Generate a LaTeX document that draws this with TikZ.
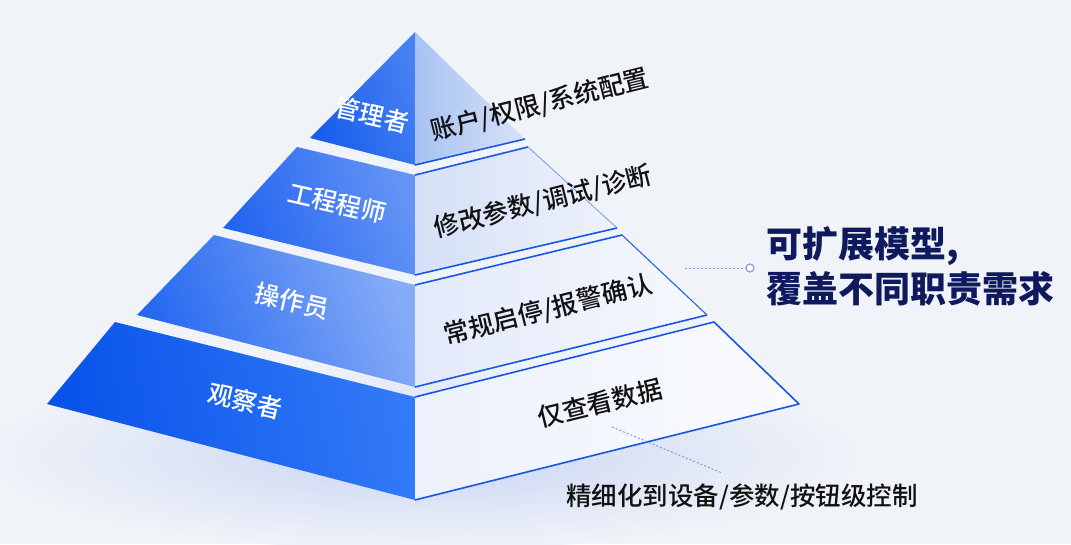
\documentclass[tikz,border=0pt]{standalone}
\usepackage{fontspec}
\setmainfont{Noto Sans CJK SC}
\newfontfamily\cjkmed{Noto Sans CJK SC Medium}
\definecolor{bg}{HTML}{F0F3F8}
\definecolor{glow}{HTML}{C8D5F3}
\definecolor{edgeblue}{HTML}{1A56E4}
\definecolor{navy}{HTML}{0F1A5E}
\definecolor{dotblue}{HTML}{7F9FE0}
\definecolor{txt}{HTML}{111111}
\tikzset{
  lefttext/.style={text=white, font=\cjkmed\fontsize{25}{28}\selectfont, rotate=-13, inner sep=0pt},
  righttext/.style={text=txt, font=\cjkmed\fontsize{25.5}{28}\selectfont, rotate=14, inner sep=0pt},
  notetext/.style={text=txt, font=\cjkmed\fontsize{25.5}{28}\selectfont, inner sep=0pt},
  titletext/.style={text=navy, font=\fontsize{36}{45}\selectfont\bfseries, align=left, inner sep=0pt},
  rightedge/.style={draw=edgeblue, line width=1.6pt, line join=round},
  dotline/.style={draw=dotblue, line width=1pt, dash pattern=on 2pt off 2pt},
}
\begin{document}
\begin{tikzpicture}[x=1pt,y=-1pt]
\fill[bg] (0,0) rectangle (1071,544);
\useasboundingbox (0,0) rectangle (1071,544);
% soft shadow
\shade[inner color=glow, outer color=bg] (420,455) ellipse [x radius=440, y radius=95];
% tier 4
\shade[left color={rgb,255:red,8;green,82;blue,234}, right color={rgb,255:red,50;green,122;blue,246}, shading angle=100]
  (115,322) -- (47,404) -- (415,500) -- (415,397) -- cycle;
\shade[left color={rgb,255:red,236;green,241;blue,251}, right color={rgb,255:red,250;green,251;blue,254}]
  (415,397) -- (415,500) -- (799,404) -- (714,322) -- cycle;
\draw[rightedge] (415,397) -- (714,322) -- (799,404) -- (415,500);
% tier 3
\shade[left color={rgb,255:red,36;green,104;blue,240}, right color={rgb,255:red,135;green,172;blue,247}, shading angle=110]
  (214,235) -- (137,315) -- (415,387) -- (415,285) -- cycle;
\shade[left color={rgb,255:red,226;green,233;blue,249}, right color={rgb,255:red,246;green,248;blue,253}]
  (415,285) -- (415,387) -- (707,315) -- (622,235) -- cycle;
\draw[rightedge] (415,285) -- (622,235);
\draw[rightedge, line width=1pt] (622,235) -- (707,315);
\draw[rightedge] (707,315) -- (415,387);
% tier 2
\shade[left color={rgb,255:red,34;green,100;blue,240}, right color={rgb,255:red,100;green,148;blue,245}, shading angle=110]
  (297,147) -- (223,228) -- (415,275) -- (415,175) -- cycle;
\shade[left color={rgb,255:red,212;green,224;blue,247}, right color={rgb,255:red,238;green,242;blue,251}]
  (415,175) -- (415,275) -- (617,228) -- (528,147) -- cycle;
\draw[rightedge] (415,175) -- (528,147);
\draw[rightedge, line width=0.8pt, draw=edgeblue!60] (528,147) -- (617,228);
\draw[rightedge] (617,228) -- (415,275);
% tier 1
\shade[left color={rgb,255:red,22;green,92;blue,236}, right color={rgb,255:red,70;green,128;blue,243}, shading angle=110]
  (415,32) -- (310,138) -- (415,165) -- cycle;
\shade[left color={rgb,255:red,168;green,194;blue,243}, right color={rgb,255:red,214;green,226;blue,248}]
  (415,32) -- (415,165) -- (525,139) -- cycle;
\draw[rightedge] (525,139) -- (415,165);
% labels
\node[lefttext] (l1) at (372,115) {管理者};
\node[lefttext] (l2) at (337,203) {工程程师};
\node[lefttext] (l3) at (292,301) {操作员};
\node[lefttext] (l4) at (245,401) {观察者};
\node[righttext] (r1) at (540,105) {账户/权限/系统配置};
\node[righttext] (r2) at (543,202) {修改参数/调试/诊断};
\node[righttext] (r3) at (548,310) {常规启停/报警确认};
\node[righttext] (r4) at (600,403) {仅查看数据};
\node[notetext] (note) at (742,497) {精细化到设备/参数/按钮级控制};
\node[titletext, anchor=west] (title) at (766,266) {可扩展模型,\\覆盖不同职责需求};
% connectors
\coordinate (p1) at (685,268);
\node[circle, draw=dotblue, line width=1.2pt, fill=white, minimum size=8pt, inner sep=0pt] (dot) at (750,268) {};
\draw[dotline] (p1) -- (dot.west);
\coordinate (p2) at (612,427);
\coordinate (p3) at (722,473);
\draw[dotline] (p2) -- (p3);
\end{tikzpicture}
\end{document}
